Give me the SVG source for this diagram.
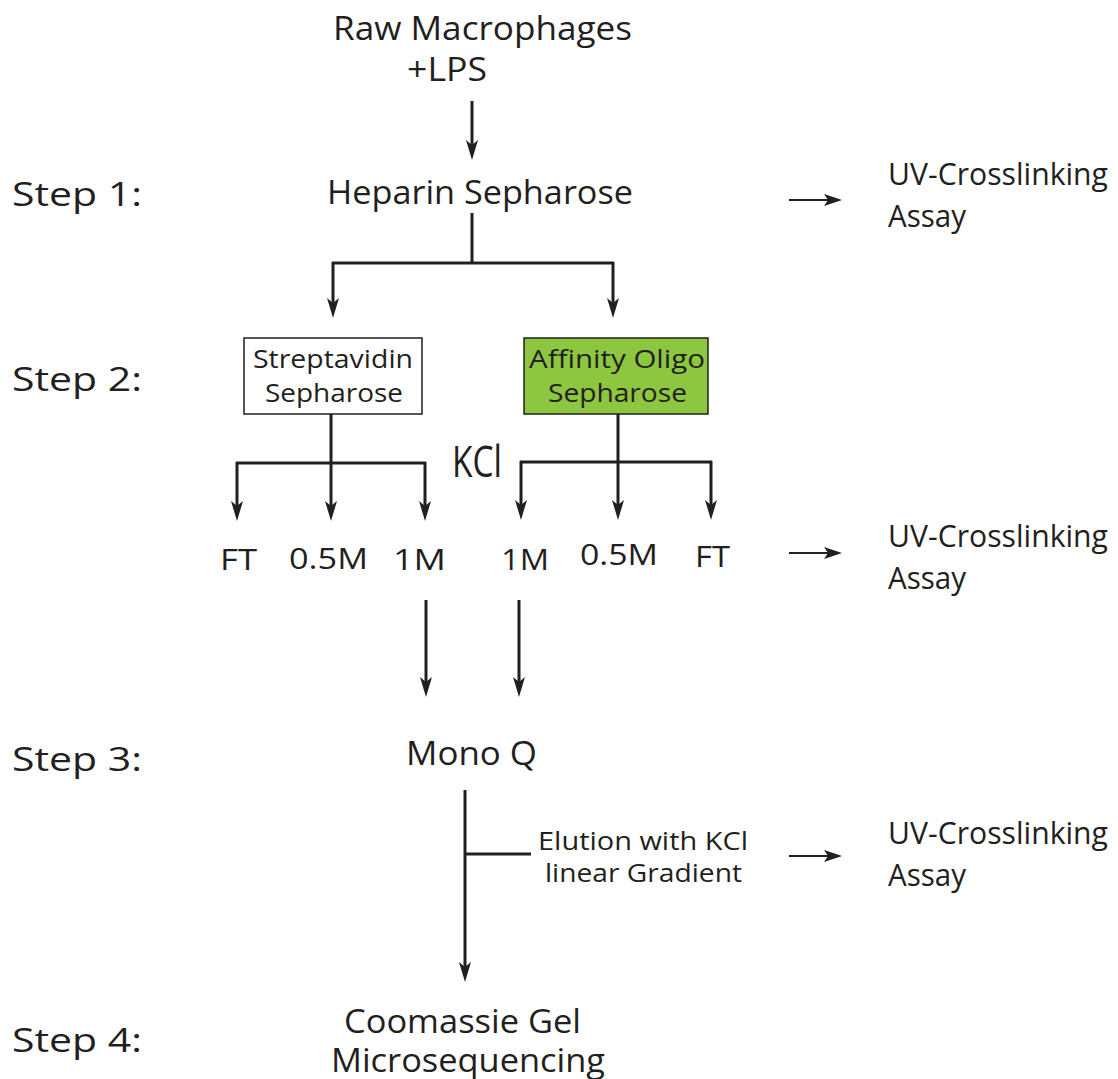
<svg xmlns="http://www.w3.org/2000/svg" width="1118" height="1079" viewBox="0 0 1118 1079">
<defs>
<style>
text{font-family:"Open Sans","Noto Sans",sans-serif;fill:#231f20}
.t{font-size:32px}
.u{font-size:31px}
.st{font-size:32px}
.f{font-size:30px}
.s{font-size:25px}
.ln{stroke:#231f20;stroke-width:3;fill:none}
.th{stroke:#231f20;stroke-width:2;fill:none}
</style>
<marker id="ah" viewBox="0 0 20 12" refX="6" refY="6" markerWidth="6.667" markerHeight="4" orient="auto" markerUnits="strokeWidth">
<path d="M0,0 L20,6 L0,12 L5,6 Z" fill="#231f20"/>
</marker>
<marker id="ah2" viewBox="0 0 18 12" refX="5" refY="6" markerWidth="9" markerHeight="6" orient="auto" markerUnits="strokeWidth">
<path d="M0,0 L18,6 L0,12 L4,6 Z" fill="#231f20"/>
</marker>
</defs>
<g id="steps">
<text class="st" x="12" y="206" textLength="130" lengthAdjust="spacingAndGlyphs">Step 1:</text>
<text class="st" x="12" y="391" textLength="130" lengthAdjust="spacingAndGlyphs">Step 2:</text>
<text class="st" x="12" y="771" textLength="130" lengthAdjust="spacingAndGlyphs">Step 3:</text>
<text class="st" x="12" y="1052" textLength="130" lengthAdjust="spacingAndGlyphs">Step 4:</text>
</g>
<g id="raw"><text class="t" x="333" y="40" textLength="299" lengthAdjust="spacingAndGlyphs">Raw Macrophages</text><text class="t" x="407" y="81" textLength="80" lengthAdjust="spacingAndGlyphs">+LPS</text></g>
<g id="heparin"><text class="t" x="327" y="204" textLength="306" lengthAdjust="spacingAndGlyphs">Heparin Sepharose</text></g>
<g id="strep"><rect x="244" y="338" width="178" height="76" fill="#fff" stroke="#231f20" stroke-width="1.5"/><text class="s" x="253" y="368" textLength="160" lengthAdjust="spacingAndGlyphs">Streptavidin</text><text class="s" x="265" y="402" textLength="138" lengthAdjust="spacingAndGlyphs">Sepharose</text></g>
<g id="affinity"><rect x="524" y="338" width="184" height="76" fill="#8dc63f" stroke="#231f20" stroke-width="1.5"/><text class="s" x="529" y="368" textLength="176" lengthAdjust="spacingAndGlyphs">Affinity Oligo</text><text class="s" x="548" y="402" textLength="139" lengthAdjust="spacingAndGlyphs">Sepharose</text></g>
<g id="kcl"><text x="452" y="477" style="font-size:44px" textLength="50" lengthAdjust="spacingAndGlyphs">KCl</text></g>
<g id="fractions">
<text class="f" x="220" y="570" textLength="37" lengthAdjust="spacingAndGlyphs">FT</text>
<text class="f" x="289" y="569" textLength="79" lengthAdjust="spacingAndGlyphs">0.5M</text>
<text class="f" x="393" y="570" textLength="53" lengthAdjust="spacingAndGlyphs">1M</text>
<text class="f" x="501" y="570" textLength="48" lengthAdjust="spacingAndGlyphs">1M</text>
<text class="f" x="580" y="565" textLength="78" lengthAdjust="spacingAndGlyphs">0.5M</text>
<text class="f" x="695" y="567" textLength="35" lengthAdjust="spacingAndGlyphs">FT</text>
</g>
<g id="monoq"><text class="t" x="406" y="765" textLength="131" lengthAdjust="spacingAndGlyphs">Mono Q</text></g>
<g id="elution"><text class="s" x="538" y="850" textLength="210" lengthAdjust="spacingAndGlyphs">Elution with KCl</text><text class="s" x="545" y="882" textLength="197" lengthAdjust="spacingAndGlyphs">linear Gradient</text></g>
<g id="coomassie"><text class="t" x="344" y="1033" textLength="237" lengthAdjust="spacingAndGlyphs">Coomassie Gel</text><text class="t" x="331" y="1072" textLength="274" lengthAdjust="spacingAndGlyphs">Microsequencing</text></g>
<g id="uv1"><text class="u" x="888" y="185" textLength="220" lengthAdjust="spacingAndGlyphs">UV-Crosslinking</text><text class="u" x="888" y="227" textLength="78" lengthAdjust="spacingAndGlyphs">Assay</text></g>
<g id="uv2"><text class="u" x="888" y="547" textLength="220" lengthAdjust="spacingAndGlyphs">UV-Crosslinking</text><text class="u" x="888" y="589" textLength="78" lengthAdjust="spacingAndGlyphs">Assay</text></g>
<g id="uv3"><text class="u" x="888" y="844" textLength="220" lengthAdjust="spacingAndGlyphs">UV-Crosslinking</text><text class="u" x="888" y="886" textLength="78" lengthAdjust="spacingAndGlyphs">Assay</text></g>
<g id="connectors">
<line class="ln" x1="472" y1="101" x2="472" y2="146" marker-end="url(#ah)"/>
<path class="ln" d="M472,213 V263 M332,263 H614"/>
<line class="ln" x1="333" y1="262" x2="333" y2="304" marker-end="url(#ah)"/>
<line class="ln" x1="613" y1="262" x2="613" y2="304" marker-end="url(#ah)"/>
<path class="ln" d="M331,414 V463 M236,463 H426"/>
<line class="ln" x1="237" y1="462" x2="237" y2="507" marker-end="url(#ah)"/>
<line class="ln" x1="331" y1="462" x2="331" y2="507" marker-end="url(#ah)"/>
<line class="ln" x1="425" y1="462" x2="425" y2="507" marker-end="url(#ah)"/>
<path class="ln" d="M618,414 V462 M520,462 H712"/>
<line class="ln" x1="521" y1="461" x2="521" y2="506" marker-end="url(#ah)"/>
<line class="ln" x1="618" y1="461" x2="618" y2="506" marker-end="url(#ah)"/>
<line class="ln" x1="711" y1="461" x2="711" y2="506" marker-end="url(#ah)"/>
<line class="ln" x1="426" y1="600" x2="426" y2="683" marker-end="url(#ah)"/>
<line class="ln" x1="519" y1="600" x2="519" y2="683" marker-end="url(#ah)"/>
<line class="ln" x1="465" y1="790" x2="465" y2="968" marker-end="url(#ah)"/>
<line class="ln" x1="466" y1="854" x2="531" y2="854"/>
<line class="th" x1="789" y1="200" x2="829" y2="200" marker-end="url(#ah2)"/>
<line class="th" x1="789" y1="553" x2="829" y2="553" marker-end="url(#ah2)"/>
<line class="th" x1="789" y1="856" x2="829" y2="856" marker-end="url(#ah2)"/>
</g>
</svg>
